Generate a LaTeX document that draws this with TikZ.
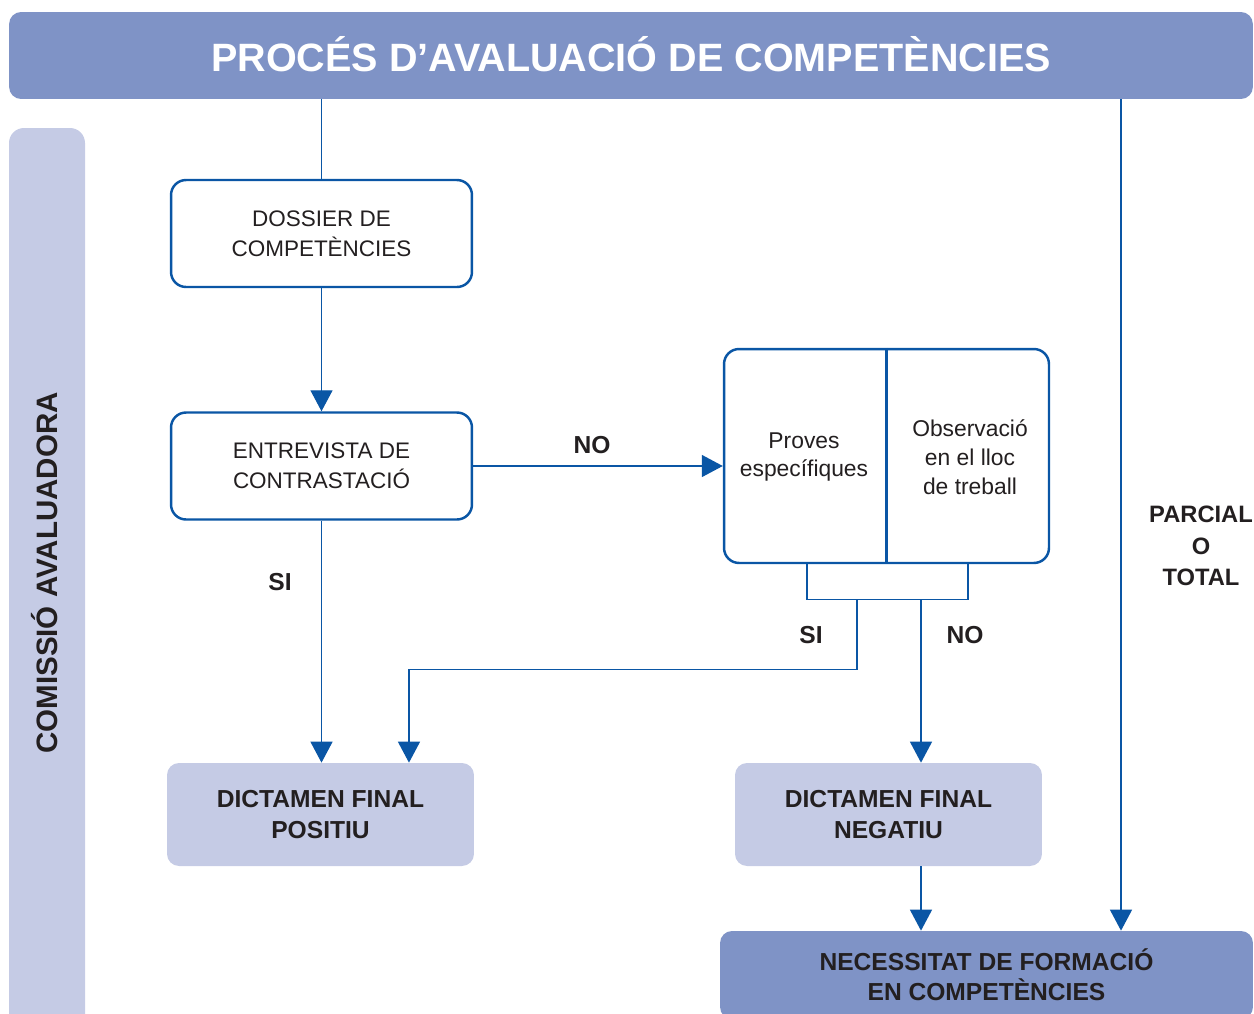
\documentclass[tikz,border=0pt]{standalone}
\usepackage{fontspec}
\setmainfont{Liberation Sans}
\usetikzlibrary{arrows.meta}

\definecolor{barblue}{HTML}{7F93C6}
\definecolor{paleblue}{HTML}{C5CBE5}
\definecolor{lineblue}{HTML}{0A56A5}
\definecolor{inkgray}{HTML}{231F20}

\tikzset{
  link/.style={draw=lineblue, line width=0.8pt},
  flow/.style={link, -{Triangle[width=0.44cm, length=0.42cm]}},
  stepbox/.style={draw=lineblue, fill=white, line width=1.4pt, rounded corners=0.3cm,
    align=center, text=inkgray, font=\fontsize{12.8}{17}\selectfont},
  resultbox/.style={fill=paleblue, rounded corners=0.24cm, minimum width=6.14cm,
    minimum height=2.06cm, align=center, text=inkgray,
    font=\bfseries\fontsize{14}{18}\selectfont},
  tag/.style={text=inkgray, align=center, font=\bfseries\fontsize{14}{18}\selectfont}
}

\begin{document}
\begin{tikzpicture}[x=0.02cm, y=-0.02cm]
  \useasboundingbox (0,0) rectangle (1254,1014);
  \clip (0,0) rectangle (1254,1014);

  % Title bar and the side bar of the committee
  \node[fill=barblue, rounded corners=0.24cm, minimum width=24.88cm, minimum height=1.74cm,
    text=white, font=\bfseries\fontsize{22.5}{26}\selectfont] (title) at (631,55.5)
    {\raisebox{0.07cm}{PROCÉS D’AVALUACIÓ DE COMPETÈNCIES}};
  \fill[paleblue, rounded corners=0.3cm] (9,128) rectangle (85,1060);
  \node[rotate=90, tag, font=\bfseries\fontsize{16.8}{20}\selectfont] (committee) at (45,573)
    {COMISSIÓ AVALUADORA};

  % The steps on the left
  \node[stepbox, minimum width=6.02cm, minimum height=2.14cm] (dossier) at (321.5,233.5)
    {DOSSIER DE\\COMPETÈNCIES};
  \node[stepbox, minimum width=6.02cm, minimum height=2.14cm] (interview) at (321.5,466)
    {ENTREVISTA DE\\CONTRASTACIÓ};

  % The split box with the two kinds of tests
  \node[stepbox, minimum width=6.5cm, minimum height=4.28cm] (tests) at (886.5,456) {};
  \draw[draw=lineblue, line width=1.4pt] (tests.north) -- (tests.south);
  \node[align=center, text=inkgray, font=\fontsize{13}{16.4}\selectfont] (proves) at (804,457)
    {Proves\\específiques};
  \node[align=center, text=inkgray, font=\fontsize{13}{16.4}\selectfont] (observe) at (970,457)
    {Observació\\en el lloc\\de treball};

  % Results
  \node[resultbox] (positive) at (320.5,814.5) {DICTAMEN FINAL\\POSITIU};
  \node[resultbox] (negative) at (888.5,814.5) {DICTAMEN FINAL\\NEGATIU};
  \node[fill=barblue, rounded corners=0.24cm, minimum width=10.66cm, minimum height=1.76cm,
    align=center, text=inkgray, font=\bfseries\fontsize{14}{17}\selectfont] (training)
    at (986.5,975) {NECESSITAT DE FORMACIÓ\\EN COMPETÈNCIES};

  % Connectors
  \coordinate (rightline) at (1121,0);
  \draw[link] (dossier.north |- title.south) -- (dossier.north);
  \draw[flow] (dossier) -- (interview);
  \draw[flow] (interview.east) -- (interview.east -| tests.west);
  \draw[flow] (interview.south) -- (interview.south |- positive.north);

  % Bracket under the tests and its two branches
  \coordinate (bl) at ([xshift=-1.59cm]tests.south);
  \coordinate (br) at ([xshift=1.63cm]tests.south);
  \draw[link] (bl) -- ++(0,35) -| (br);
  \coordinate (siout) at ([xshift=-0.59cm, yshift=-0.7cm]tests.south);
  \coordinate (noout) at ([xshift=0.69cm, yshift=-0.7cm]tests.south);
  \draw[flow] (siout) -- ++(0,70) -| ([xshift=1.77cm]positive.north);
  \draw[flow] (noout) -- (noout |- negative.north);
  \draw[flow] (noout |- negative.south) -- (noout |- training.north);
  \draw[flow] (rightline |- title.south) -- (rightline |- training.north);

  % Labels
  \node[tag] (no1) at (592,445) {NO};
  \node[tag] (si1) at (280,582) {SI};
  \node[tag] (si2) at (811,635) {SI};
  \node[tag] (no2) at (965,635) {NO};
  \node[tag, font=\bfseries\fontsize{13.5}{18}\selectfont] (partial) at (1201,546)
    {PARCIAL\\O\\TOTAL};
\end{tikzpicture}
\end{document}
